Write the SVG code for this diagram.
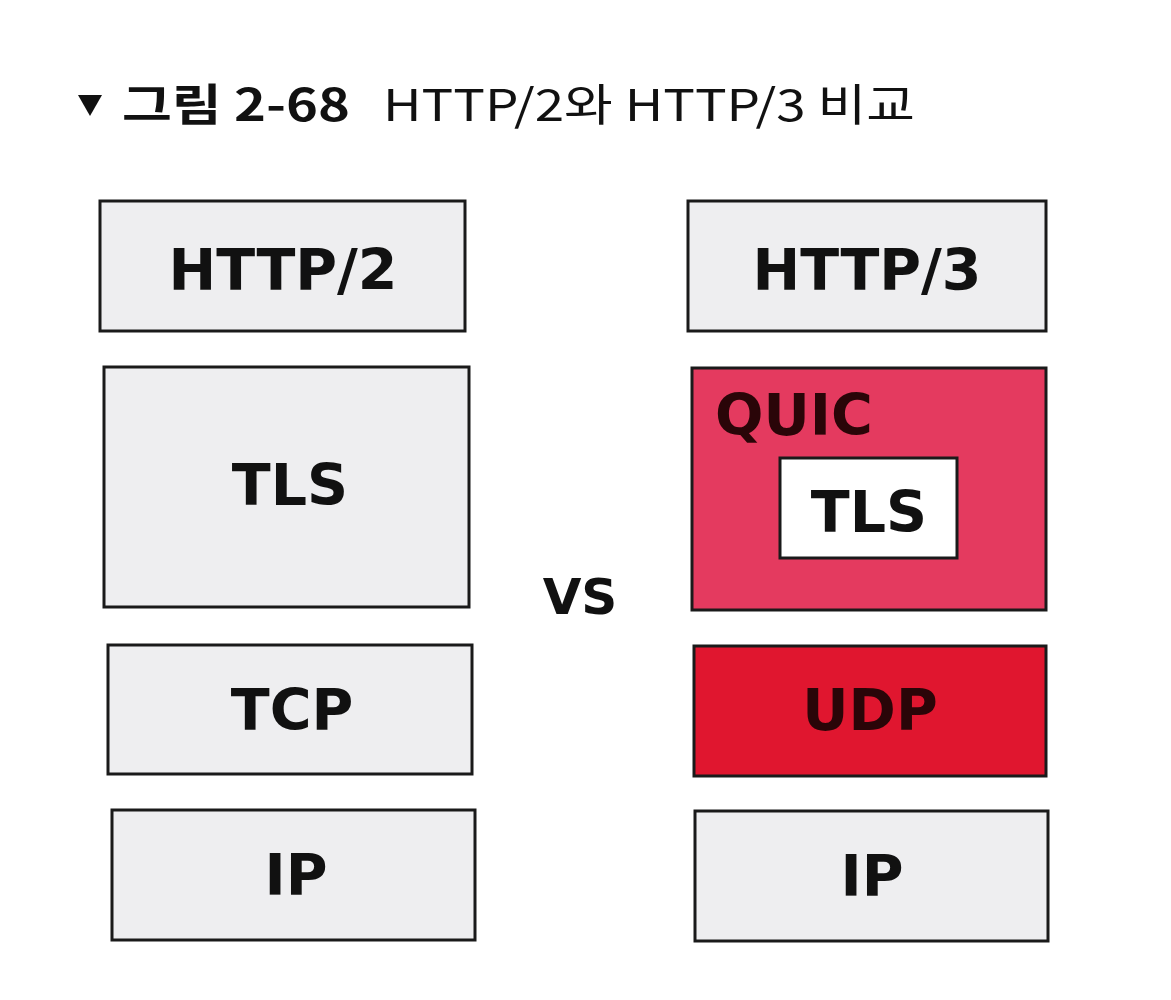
<svg xmlns="http://www.w3.org/2000/svg" width="1171" height="1000" viewBox="0 0 1171 1000">
<style>
.box{stroke:#1a1a1a;stroke-width:3}
.grey{fill:#eeeef0}
.lbl{font-family:"DejaVu Sans","Noto Sans",sans-serif;font-weight:bold;font-size:57px;fill:#111;text-anchor:middle}
.red{fill:#2a0508}
.title{font-family:"Noto Sans CJK KR","Noto Sans",sans-serif;font-size:44px;fill:#111}
</style>
<rect width="1171" height="1000" fill="#ffffff"/>
<g id="title">
<polygon points="78,95 102,95 90,116" fill="#111"/>
<text class="title" x="122" y="121" font-weight="bold" textLength="228" lengthAdjust="spacingAndGlyphs">그림 2-68</text>
<text class="title" x="383" y="121" textLength="532" lengthAdjust="spacingAndGlyphs">HTTP/2와 HTTP/3 비교</text>
</g>
<g id="http2">
<rect class="box grey" x="100" y="201" width="365" height="130"/>
<text class="lbl" x="283" y="290">HTTP/2</text>
</g>
<g id="tls-left">
<rect class="box grey" x="104" y="367" width="365" height="240"/>
<text class="lbl" x="290" y="505">TLS</text>
</g>
<g id="tcp">
<rect class="box grey" x="108" y="645" width="364" height="129"/>
<text class="lbl" x="292" y="730">TCP</text>
</g>
<g id="ip-left">
<rect class="box grey" x="112" y="810" width="363" height="130"/>
<text class="lbl" x="296" y="895">IP</text>
</g>
<g id="vs">
<text class="lbl" x="580" y="614" style="font-size:50px">VS</text>
</g>
<g id="http3">
<rect class="box grey" x="688" y="201" width="358" height="130"/>
<text class="lbl" x="867" y="290">HTTP/3</text>
</g>
<g id="quic">
<rect class="box" x="692" y="368" width="354" height="242" fill="#e43a5f"/>
<text class="lbl red" x="715" y="435" style="text-anchor:start">QUIC</text>
</g>
<g id="tls-right">
<rect class="box" x="780" y="458" width="177" height="100" fill="#ffffff"/>
<text class="lbl" x="869" y="532">TLS</text>
</g>
<g id="udp">
<rect class="box" x="694" y="646" width="352" height="130" fill="#e0162f"/>
<text class="lbl red" x="870" y="730">UDP</text>
</g>
<g id="ip-right">
<rect class="box grey" x="695" y="811" width="353" height="130"/>
<text class="lbl" x="872" y="896">IP</text>
</g>
<g id="connectors"></g>
</svg>
